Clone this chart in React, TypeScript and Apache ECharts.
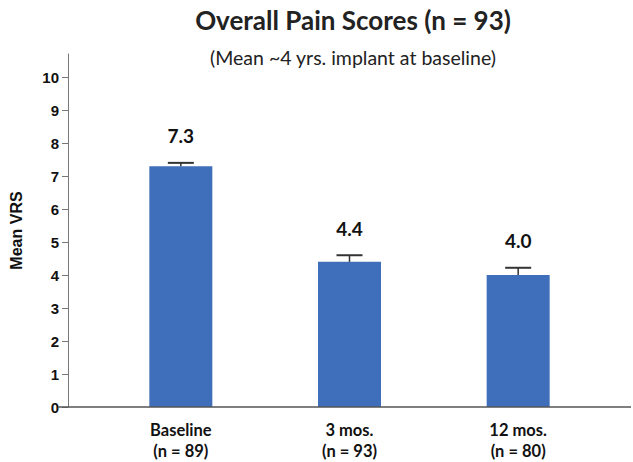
import React, { useEffect, useRef } from "react";
import * as echarts from "echarts";

const categories = ["Baseline", "3 mos.", "12 mos."];
const sampleSizes = [89, 93, 80];
const meanVRS = [7.3, 4.4, 4.0];
const errorUpper = [0.1, 0.2, 0.22];
const yTicks = [0, 1, 2, 3, 4, 5, 6, 7, 8, 9, 10];

const W = 633;
const H = 462;
const GRID_LEFT = 92.5;
const GRID_RIGHT = 30.5;
const GRID_TOP = 54;
const GRID_BOTTOM = 55;
const Y_AXIS_X = 64;

export default function App() {
  const ref = useRef<HTMLDivElement>(null);
  useEffect(() => {
    if (!ref.current) return;
    const chart = echarts.init(ref.current, null, { renderer: "svg" });
    const labels = categories.map((c, i) => `${c}\n(n = ${sampleSizes[i]})`);
    const errData = meanVRS.map((m, i) => [i, m, errorUpper[i]]);
    const axisY = H - GRID_BOTTOM;
    chart.setOption({
      animation: false,
      backgroundColor: "#ffffff",
      title: [
        {
          text: "Overall Pain Scores (n = 93)",
          left: 348,
          top: 2,
          textAlign: "center",
          textStyle: { fontFamily: "Lato", fontWeight: "bold", fontSize: 26, color: "#222" },
        },
        {
          text: "(Mean ~4 yrs. implant at baseline)",
          left: 348,
          top: 42,
          textAlign: "center",
          textStyle: { fontFamily: "Lato", fontWeight: "normal", fontSize: 19.5, color: "#222" },
        },
      ],
      grid: { left: GRID_LEFT, right: GRID_RIGHT, top: GRID_TOP, bottom: GRID_BOTTOM },
      xAxis: {
        type: "category",
        data: labels,
        axisLine: { show: false },
        axisTick: { show: false },
        axisLabel: {
          fontFamily: "Lato",
          fontWeight: "bold",
          fontSize: 16.5,
          color: "#111",
          lineHeight: 21,
          margin: 12,
        },
      },
      yAxis: {
        type: "value",
        min: 0,
        max: 10.7,
        interval: 1,
        offset: GRID_LEFT - Y_AXIS_X,
        name: "Mean VRS",
        nameLocation: "middle",
        nameGap: 44,
        nameTextStyle: { fontFamily: "Liberation Sans", fontWeight: "bold", fontSize: 16, color: "#111" },
        splitLine: { show: false },
        axisLine: { show: true, lineStyle: { color: "#777", width: 1 } },
        axisTick: { show: true, length: 6, lineStyle: { color: "#777" }, customValues: yTicks },
        axisLabel: {
          customValues: yTicks,
          fontFamily: "Liberation Sans",
          fontWeight: "bold",
          fontSize: 15,
          color: "#111",
          margin: 9,
        },
      },
      graphic: [
        {
          type: "line",
          shape: { x1: Y_AXIS_X - 6, y1: axisY, x2: W - 2, y2: axisY },
          style: { stroke: "#555", lineWidth: 1.5 },
          z: 10,
        },
      ],
      series: [
        {
          type: "bar",
          data: meanVRS,
          barWidth: 63,
          itemStyle: { color: "#3f6fba" },
          z: 2,
        },
        {
          type: "custom",
          data: errData,
          z: 3,
          renderItem: (params: any, api: any) => {
            const x = api.value(0);
            const m = api.value(1);
            const e = api.value(2);
            const base = api.coord([x, m]);
            const top = api.coord([x, m + e]);
            return {
              type: "group",
              children: [
                {
                  type: "line",
                  shape: { x1: base[0], y1: base[1], x2: top[0], y2: top[1] },
                  style: { stroke: "#333", lineWidth: 1.5 },
                },
                {
                  type: "line",
                  shape: { x1: top[0] - 13, y1: top[1], x2: top[0] + 13, y2: top[1] },
                  style: { stroke: "#333", lineWidth: 2 },
                },
                {
                  type: "text",
                  x: top[0],
                  y: top[1] - 27,
                  style: {
                    text: m.toFixed(1),
                    textAlign: "center",
                    textVerticalAlign: "middle",
                    fontFamily: "Lato",
                    fontWeight: "bold",
                    fontSize: 19,
                    fill: "#111",
                  },
                },
              ],
            };
          },
        },
      ],
    });
    return () => chart.dispose();
  }, []);
  return (
    <div
      ref={ref}
      style={{ position: "fixed", left: 0, top: 0, width: W, height: H, background: "#fff" }}
    />
  );
}
